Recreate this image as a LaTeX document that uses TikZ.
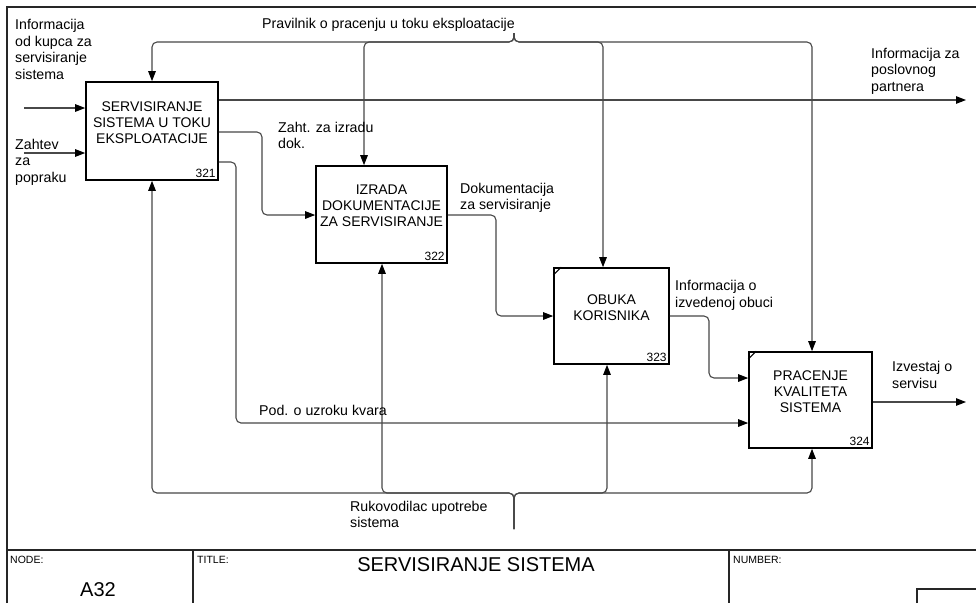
\documentclass[tikz,border=0pt]{standalone}
\usepackage{fontspec}
\setmainfont{Liberation Sans}
\usetikzlibrary{arrows.meta}

\definecolor{linegray}{HTML}{484848}

\tikzset{
  procbox/.style={draw=black, line width=1.6pt, inner sep=0pt},
  boxtext/.style={align=center, inner sep=0pt, font=\fontsize{14}{16}\selectfont},
  boxnum/.style={anchor=south east, inner sep=0pt, font=\fontsize{12}{13}\selectfont},
  lbl/.style={align=left, anchor=west, inner sep=0pt, font=\fontsize{14.2}{16.5}\selectfont},
  flow/.style={draw=linegray, line width=1.1pt, rounded corners=5pt,
    -{Triangle[length=10pt,width=7.5pt,color=black]}},
  frame/.style={draw=black!85, line width=1.2pt},
  tick/.style={draw=black, line width=1.1pt},
  smalltag/.style={anchor=west, inner sep=0pt, font=\fontsize{10.5}{12}\selectfont},
}

\begin{document}
\begin{tikzpicture}[x=1pt,y=-1pt]
\useasboundingbox (0,0) rectangle (976,603);
\fill[white] (0,0) rectangle (976,603);

% sheet frame and title block
\draw[frame] (7,603) -- (7,7) -- (976,7);
\draw[frame] (7,550) -- (976,550);
\draw[frame] (193,550) -- (193,603);
\draw[frame] (729,550) -- (729,603);
\draw[frame] (917,603) -- (917,589) -- (976,589);

\node[smalltag] (nodetag) at (10,560) {NODE:};
\node[inner sep=0pt, font=\fontsize{20}{22}\selectfont] (nodeid) at (98,590) {A32};
\node[smalltag] (titletag) at (197,560) {TITLE:};
\node[inner sep=0pt, font=\fontsize{20}{22}\selectfont] (title) at (476,565) {SERVISIRANJE SISTEMA};
\node[smalltag] (numtag) at (733,560) {NUMBER:};

% activity boxes
\node[procbox, minimum width=132pt, minimum height=98pt] (b321) at (152,131) {};
\node[procbox, minimum width=131pt, minimum height=97pt] (b322) at (381.5,214.5) {};
\node[procbox, minimum width=115pt, minimum height=96pt] (b323) at (611.5,316) {};
\node[procbox, minimum width=123pt, minimum height=96pt] (b324) at (810.5,400) {};

\node[boxtext] (t321) at (152,123) {SERVISIRANJE\\SISTEMA U TOKU\\EKSPLOATACIJE};
\node[boxtext] (t322) at (381.5,206) {IZRADA\\DOKUMENTACIJE\\ZA SERVISIRANJE};
\node[boxtext] (t323) at (611.5,307.5) {OBUKA\\KORISNIKA};
\node[boxtext] (t324) at (810.5,392) {PRACENJE\\KVALITETA\\SISTEMA};

\node[boxnum] (n321) at ([xshift=-3pt,yshift=3pt]b321.south east) {321};
\node[boxnum] (n322) at ([xshift=-3pt,yshift=3pt]b322.south east) {322};
\node[boxnum] (n323) at ([xshift=-3pt,yshift=3pt]b323.south east) {323};
\node[boxnum] (n324) at ([xshift=-3pt,yshift=3pt]b324.south east) {324};

% corner marks
\draw[tick] ([yshift=-8pt]b323.north west) -- ([xshift=8pt]b323.north west);
\draw[tick] ([yshift=-8pt]b324.north west) -- ([xshift=8pt]b324.north west);

% inputs
\coordinate (in1) at (24,108);
\coordinate (in2) at (24,153);
\draw[flow] (in1) -- (in1 -| b321.west);
\draw[flow] (in2) -- (in2 -| b321.west);

% outputs and internal flows
\coordinate (out1) at (966,100);
\coordinate (out2) at (966,402);
\draw[flow] (b321.east |- out1) -- (out1);
\draw[flow] (b321.east |- 0,132) -- (262,132) -- (262,215) -- (b322.west |- 0,215);
\draw[flow] (b321.east |- 0,162) -- (236,162) -- (236,423) -- (b324.west |- 0,423);
\draw[flow] (b322.east |- 0,215) -- (496,215) -- (496,316) -- (b323.west |- 0,316);
\draw[flow] (b323.east |- 0,316) -- (709,316) -- (709,378) -- (b324.west |- 0,378);
\draw[flow] (b324.east |- out2) -- (out2);

% controls
\coordinate (ctop) at (514,33);
\draw[flow] (ctop) -- (514,42) -- (152,42) -- (b321.north);
\draw[flow] (ctop) -- (514,42) -- (364,42) -- (364,0 |- b322.north);
\draw[flow] (ctop) -- (514,42) -- (603,42) -- (603,0 |- b323.north);
\draw[flow] (ctop) -- (514,42) -- (812,42) -- (812,0 |- b324.north);

% mechanisms
\coordinate (cbot) at (514,529);
\draw[flow] (cbot) -- (514,493) -- (152,493) -- (b321.south);
\draw[flow] (cbot) -- (514,493) -- (382,493) -- (382,0 |- b322.south);
\draw[flow] (cbot) -- (514,493) -- (607,493) -- (607,0 |- b323.south);
\draw[flow] (cbot) -- (514,493) -- (812,493) -- (812,0 |- b324.south);

% arrow labels
\node[lbl] (lkupac) at (15,49.5) {Informacija\\od kupca za\\servisiranje\\sistema};
\node[lbl] (lzahtev) at (15,162) {Zahtev\\za\\popraku};
\node[lbl] (lprav) at (262,25) {Pravilnik o pracenju u toku eksploatacije};
\node[lbl] (lposl) at (871,71) {Informacija za\\poslovnog\\partnera};
\node[lbl] (lzaht) at (278,135.5) {Zaht. za izradu\\dok.};
\node[lbl] (ldok) at (460,198) {Dokumentacija\\za servisiranje};
\node[lbl] (lobuka) at (675,295.5) {Informacija o\\izvedenoj obuci};
\node[lbl] (lizv) at (892,375) {Izvestaj o\\servisu};
\node[lbl] (lpod) at (259,410) {Pod. o uzroku kvara};
\node[lbl] (lruk) at (350,514.5) {Rukovodilac upotrebe\\sistema};
\end{tikzpicture}
\end{document}
